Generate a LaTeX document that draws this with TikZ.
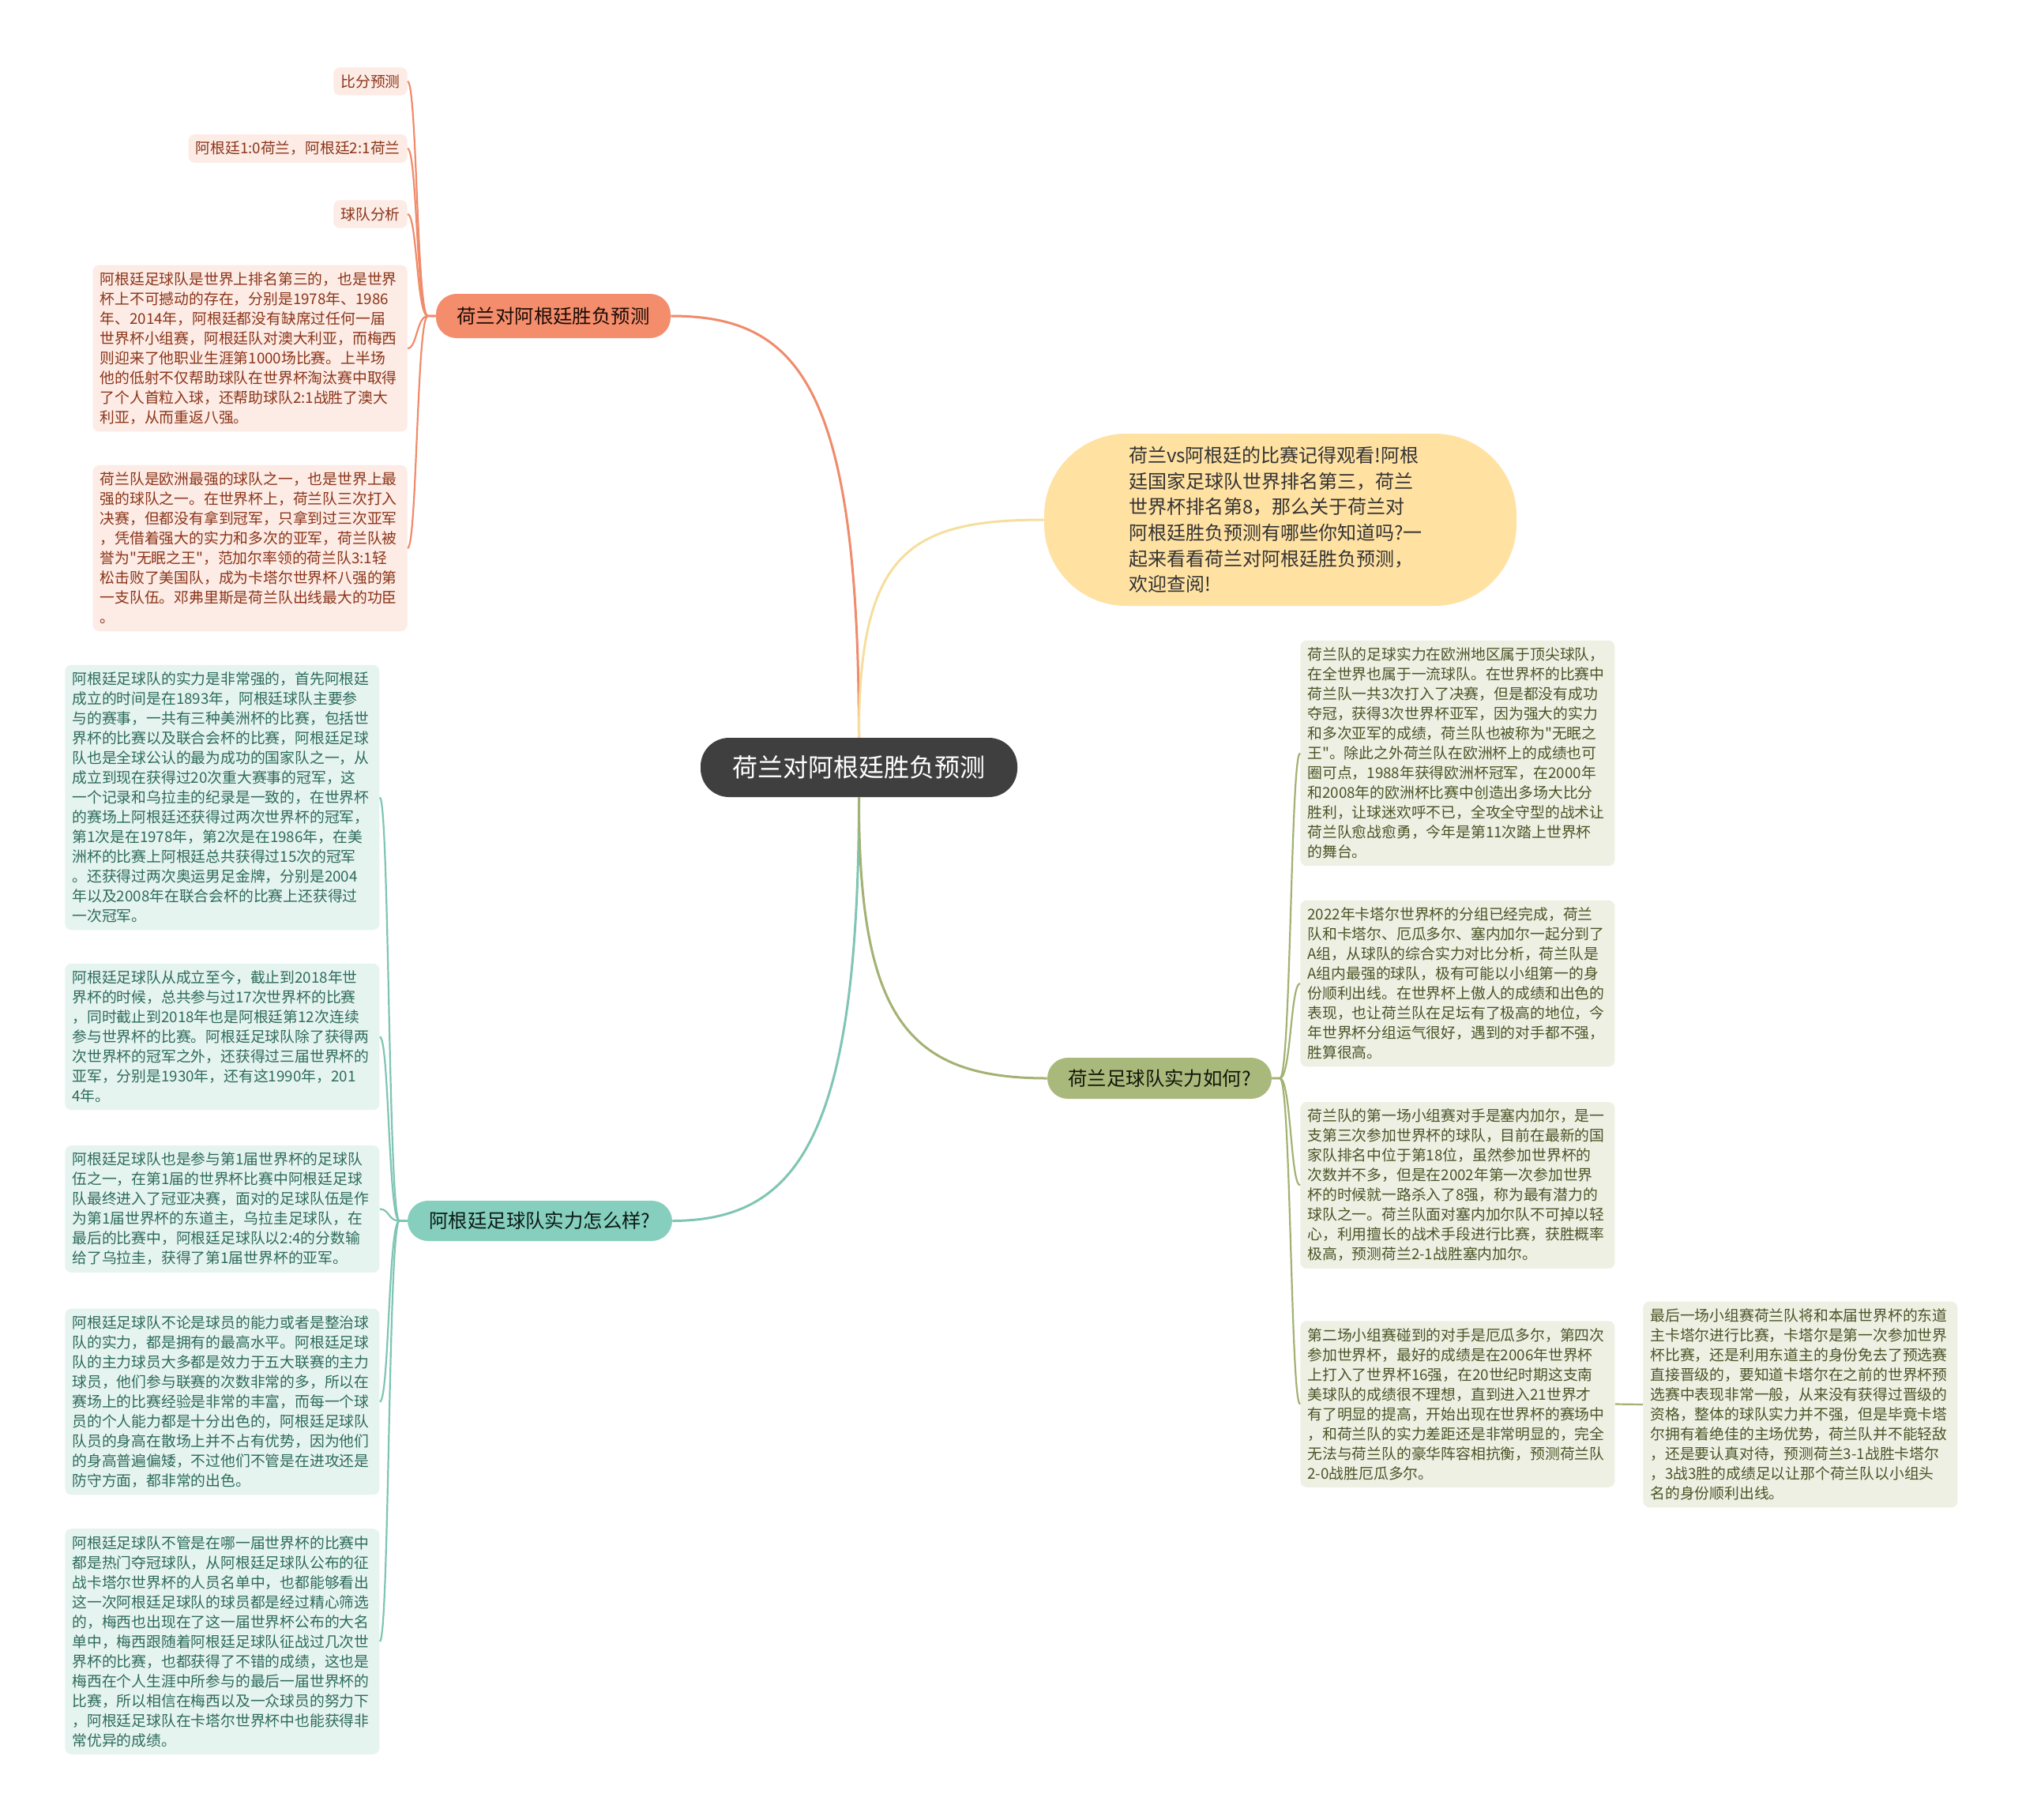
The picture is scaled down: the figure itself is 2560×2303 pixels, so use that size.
\documentclass[tikz,border=0pt]{standalone}
\usepackage{fontspec}
\setmainfont{Noto Sans CJK SC}[Ligatures=TeXOff]
\definecolor{rootfill}{HTML}{3F3F3F}
\definecolor{orgline}{HTML}{F08B6B}
\definecolor{orgfill}{HTML}{F48D6C}
\definecolor{orgleaf}{HTML}{FDEBE5}
\definecolor{orgtext}{HTML}{8A3519}
\definecolor{yelline}{HTML}{F6DE9E}
\definecolor{yelfill}{HTML}{FFE1A2}
\definecolor{tealline}{HTML}{7FC5B3}
\definecolor{tealfill}{HTML}{86CEBD}
\definecolor{tealleaf}{HTML}{E6F4F0}
\definecolor{tealtext}{HTML}{2D6B5B}
\definecolor{oliveline}{HTML}{A3B272}
\definecolor{olivefill}{HTML}{A9B97B}
\definecolor{oliveleaf}{HTML}{EEF0E3}
\definecolor{olivetext}{HTML}{4A5426}
\begin{document}
\begin{tikzpicture}[x=0.5pt,y=-0.5pt,
    leaf/.style={rounded corners=4pt, inner sep=4.5pt, align=left,
        font=\fontsize{9.4}{12.5}\selectfont},
    para/.style={leaf, text width=190pt},
    branch/.style={rounded corners=13pt, inner sep=0pt,
        font=\fontsize{12.2}{14}\selectfont},
    pleaf/.style={leaf, fill=orgleaf, text=orgtext},
    tleaf/.style={para, fill=tealleaf, text=tealtext},
    oleaf/.style={para, fill=oliveleaf, text=olivetext},
    mainline/.style={line width=1.5pt},
    subline/.style={line width=1.1pt}]
    % 画布
    \useasboundingbox[fill=white] (0,0) rectangle (2560,2303);
    % 中心主题
    \node (root) at (1087.5,971.5)[fill=rootfill, text=white, rounded corners=18pt,
        minimum width=200.5pt, minimum height=37.5pt, inner sep=0pt,
        font=\fontsize{16}{18}\selectfont] {荷兰对阿根廷胜负预测};
    % 一级分支
    \node (pred) at (700.5,400)[branch, fill=orgfill, text=black!80!orgtext,
        minimum width=148.5pt, minimum height=28pt] {荷兰对阿根廷胜负预测};
    \node (intro) at (1621,658)[fill=yelfill, text=black!80, rounded corners=52pt,
        minimum width=299pt, minimum height=109pt, text width=192pt, align=left,
        font=\fontsize{12}{16.3}\selectfont] {荷兰vs阿根廷的比赛记得观看!阿根\\
        廷国家足球队世界排名第三，荷兰\\
        世界杯排名第8，那么关于荷兰对\\
        阿根廷胜负预测有哪些你知道吗?一\\
        起来看看荷兰对阿根廷胜负预测，\\
        欢迎查阅!};
    \node (arg) at (683.5,1545.5)[branch, fill=tealfill, text=black!75!tealtext,
        minimum width=167.5pt, minimum height=25.5pt] {阿根廷足球队实力怎么样?};
    \node (ned) at (1468,1365)[branch, fill=olivefill, text=black!75!olivetext,
        minimum width=142pt, minimum height=26pt] {荷兰足球队实力如何?};
    % 中心到分支的连线
    \draw[mainline, orgline] (root.north) .. controls (1087,490) and (1012,400) .. (pred.east);
    \draw[mainline, yelline] (root.north) .. controls (1087,700) and (1150,658) .. (intro.west);
    \draw[mainline, tealline] (root.south) .. controls (1087,1440) and (1010,1545) .. (arg.east);
    \draw[mainline, oliveline] (root.south) .. controls (1087,1290) and (1150,1365) .. (ned.west);
    % 胜负预测的子节点
    \node (p1) at (516,103)[pleaf, anchor=east] {比分预测};
    \node (p2) at (516,188)[pleaf, anchor=east] {阿根廷1:0荷兰，阿根廷2:1荷兰};
    \node (p3) at (516,271)[pleaf, anchor=east] {球队分析};
    \node (p4) at (516,441)[pleaf, para, anchor=east] {阿根廷足球队是世界上排名第三的，也是世界\\
        杯上不可撼动的存在，分别是1978年、1986\\
        年、2014年，阿根廷都没有缺席过任何一届\\
        世界杯小组赛，阿根廷队对澳大利亚，而梅西\\
        则迎来了他职业生涯第1000场比赛。上半场\\
        他的低射不仅帮助球队在世界杯淘汰赛中取得\\
        了个人首粒入球，还帮助球队2:1战胜了澳大\\
        利亚，从而重返八强。};
    \node (p5) at (516,694)[pleaf, para, anchor=east] {荷兰队是欧洲最强的球队之一，也是世界上最\\
        强的球队之一。在世界杯上，荷兰队三次打入\\
        决赛，但都没有拿到冠军，只拿到过三次亚军\\
        ，凭借着强大的实力和多次的亚军，荷兰队被\\
        誉为"无眠之王"，范加尔率领的荷兰队3:1轻\\
        松击败了美国队，成为卡塔尔世界杯八强的第\\
        一支队伍。邓弗里斯是荷兰队出线最大的功臣\\
        。};
    \foreach \n in {p1,p2,p3,p4,p5}
        \draw[subline, orgline] (pred.west) -- ++(-10,0) .. controls +(-14,0) and +(12,0) .. (\n.east);
    % 阿根廷实力的子节点
    \node (a1) at (82,1009.5)[tleaf, anchor=west] {阿根廷足球队的实力是非常强的，首先阿根廷\\
        成立的时间是在1893年，阿根廷球队主要参\\
        与的赛事，一共有三种美洲杯的比赛，包括世\\
        界杯的比赛以及联合会杯的比赛，阿根廷足球\\
        队也是全球公认的最为成功的国家队之一，从\\
        成立到现在获得过20次重大赛事的冠军，这\\
        一个记录和乌拉圭的纪录是一致的，在世界杯\\
        的赛场上阿根廷还获得过两次世界杯的冠军，\\
        第1次是在1978年，第2次是在1986年，在美\\
        洲杯的比赛上阿根廷总共获得过15次的冠军\\
        。还获得过两次奥运男足金牌，分别是2004\\
        年以及2008年在联合会杯的比赛上还获得过\\
        一次冠军。};
    \node (a2) at (82,1312.5)[tleaf, anchor=west] {阿根廷足球队从成立至今，截止到2018年世\\
        界杯的时候，总共参与过17次世界杯的比赛\\
        ，同时截止到2018年也是阿根廷第12次连续\\
        参与世界杯的比赛。阿根廷足球队除了获得两\\
        次世界杯的冠军之外，还获得过三届世界杯的\\
        亚军，分别是1930年，还有这1990年，201\\
        4年。};
    \node (a3) at (82,1530.5)[tleaf, anchor=west] {阿根廷足球队也是参与第1届世界杯的足球队\\
        伍之一，在第1届的世界杯比赛中阿根廷足球\\
        队最终进入了冠亚决赛，面对的足球队伍是作\\
        为第1届世界杯的东道主，乌拉圭足球队，在\\
        最后的比赛中，阿根廷足球队以2:4的分数输\\
        给了乌拉圭，获得了第1届世界杯的亚军。};
    \node (a4) at (82,1774.5)[tleaf, anchor=west] {阿根廷足球队不论是球员的能力或者是整治球\\
        队的实力，都是拥有的最高水平。阿根廷足球\\
        队的主力球员大多都是效力于五大联赛的主力\\
        球员，他们参与联赛的次数非常的多，所以在\\
        赛场上的比赛经验是非常的丰富，而每一个球\\
        员的个人能力都是十分出色的，阿根廷足球队\\
        队员的身高在散场上并不占有优势，因为他们\\
        的身高普遍偏矮，不过他们不管是在进攻还是\\
        防守方面，都非常的出色。};
    \node (a5) at (82,2078)[tleaf, anchor=west] {阿根廷足球队不管是在哪一届世界杯的比赛中\\
        都是热门夺冠球队，从阿根廷足球队公布的征\\
        战卡塔尔世界杯的人员名单中，也都能够看出\\
        这一次阿根廷足球队的球员都是经过精心筛选\\
        的，梅西也出现在了这一届世界杯公布的大名\\
        单中，梅西跟随着阿根廷足球队征战过几次世\\
        界杯的比赛，也都获得了不错的成绩，这也是\\
        梅西在个人生涯中所参与的最后一届世界杯的\\
        比赛，所以相信在梅西以及一众球员的努力下\\
        ，阿根廷足球队在卡塔尔世界杯中也能获得非\\
        常优异的成绩。};
    \foreach \n in {a1,a2,a3,a4,a5}
        \draw[subline, tealline] (arg.west) -- ++(-10,0) .. controls +(-14,0) and +(12,0) .. (\n.east);
    % 荷兰实力的子节点
    \node (n1) at (1646,953.5)[oleaf, anchor=west] {荷兰队的足球实力在欧洲地区属于顶尖球队，\\
        在全世界也属于一流球队。在世界杯的比赛中\\
        荷兰队一共3次打入了决赛，但是都没有成功\\
        夺冠，获得3次世界杯亚军，因为强大的实力\\
        和多次亚军的成绩，荷兰队也被称为"无眠之\\
        王"。除此之外荷兰队在欧洲杯上的成绩也可\\
        圈可点，1988年获得欧洲杯冠军，在2000年\\
        和2008年的欧洲杯比赛中创造出多场大比分\\
        胜利，让球迷欢呼不已，全攻全守型的战术让\\
        荷兰队愈战愈勇，今年是第11次踏上世界杯\\
        的舞台。};
    \node (n2) at (1646,1245)[oleaf, anchor=west] {2022年卡塔尔世界杯的分组已经完成，荷兰\\
        队和卡塔尔、厄瓜多尔、塞内加尔一起分到了\\
        A组，从球队的综合实力对比分析，荷兰队是\\
        A组内最强的球队，极有可能以小组第一的身\\
        份顺利出线。在世界杯上傲人的成绩和出色的\\
        表现，也让荷兰队在足坛有了极高的地位，今\\
        年世界杯分组运气很好，遇到的对手都不强，\\
        胜算很高。};
    \node (n3) at (1646,1500.5)[oleaf, anchor=west] {荷兰队的第一场小组赛对手是塞内加尔，是一\\
        支第三次参加世界杯的球队，目前在最新的国\\
        家队排名中位于第18位，虽然参加世界杯的\\
        次数并不多，但是在2002年第一次参加世界\\
        杯的时候就一路杀入了8强，称为最有潜力的\\
        球队之一。荷兰队面对塞内加尔队不可掉以轻\\
        心，利用擅长的战术手段进行比赛，获胜概率\\
        极高，预测荷兰2-1战胜塞内加尔。};
    \node (n4) at (1646,1777.5)[oleaf, anchor=west] {第二场小组赛碰到的对手是厄瓜多尔，第四次\\
        参加世界杯，最好的成绩是在2006年世界杯\\
        上打入了世界杯16强，在20世纪时期这支南\\
        美球队的成绩很不理想，直到进入21世界才\\
        有了明显的提高，开始出现在世界杯的赛场中\\
        ，和荷兰队的实力差距还是非常明显的，完全\\
        无法与荷兰队的豪华阵容相抗衡，预测荷兰队\\
        2-0战胜厄瓜多尔。};
    \node (n5) at (2080,1778)[oleaf, anchor=west] {最后一场小组赛荷兰队将和本届世界杯的东道\\
        主卡塔尔进行比赛，卡塔尔是第一次参加世界\\
        杯比赛，还是利用东道主的身份免去了预选赛\\
        直接晋级的，要知道卡塔尔在之前的世界杯预\\
        选赛中表现非常一般，从来没有获得过晋级的\\
        资格，整体的球队实力并不强，但是毕竟卡塔\\
        尔拥有着绝佳的主场优势，荷兰队并不能轻敌\\
        ，还是要认真对待，预测荷兰3-1战胜卡塔尔\\
        ，3战3胜的成绩足以让那个荷兰队以小组头\\
        名的身份顺利出线。};
    \foreach \n in {n1,n2,n3,n4}
        \draw[subline, oliveline] (ned.east) -- ++(10,0) .. controls +(14,0) and +(-12,0) .. (\n.west);
    \draw[subline, oliveline] (n4.east) -- (n5.west);
\end{tikzpicture}
\end{document}
